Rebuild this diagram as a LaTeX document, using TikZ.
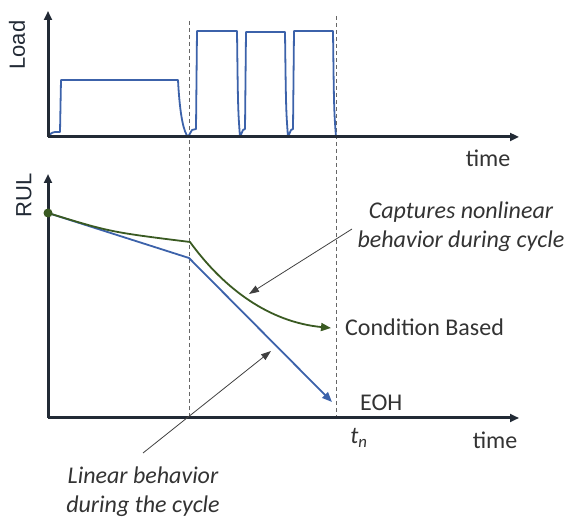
\documentclass[tikz,border=0pt]{standalone}
\usepackage{fontspec}
\setmainfont{Carlito}
\newfontfamily\axfont{Liberation Sans}
\usetikzlibrary{arrows.meta}
\definecolor{axisc}{HTML}{222A35}
\definecolor{loadc}{HTML}{3C62AA}
\definecolor{greenc}{HTML}{3A5A22}
\definecolor{txtc}{HTML}{333333}
\tikzset{
  axis/.style={draw=axisc,line width=3pt,-{Triangle[length=9pt,width=8pt]}},
  dashv/.style={draw=gray!80!black,line width=0.7pt,dash pattern=on 4pt off 3pt},
  curve/.style={line width=1.8pt,line join=round},
  note/.style={draw=black!75,line width=0.8pt,-{Triangle[length=10pt,width=7pt]}},
  lbl/.style={font=\fontsize{24}{29}\selectfont,text=txtc,inner sep=0pt},
  itl/.style={font=\fontsize{24}{29}\selectfont\itshape,text=txtc,inner sep=0pt,align=center},
  axlbl/.style={font=\axfont\fontsize{22}{24}\selectfont,text=axisc,inner sep=0pt,rotate=90}
}
\begin{document}
\begin{tikzpicture}[x=1pt,y=-1pt]
\useasboundingbox (0,0) rectangle (568,521);
% coordinates
\coordinate (o1) at (48,137);
\coordinate (y1) at (48,11);
\coordinate (x1) at (519,137);
\coordinate (o2) at (48,418);
\coordinate (y2) at (48,174);
\coordinate (x2) at (519,418);
\coordinate (d1t) at (189,21);
\coordinate (d1b) at (189,416);
\coordinate (d2t) at (336,16);
\coordinate (d2b) at (336,416);
% dashed guides
\draw[dashv] (d1t) -- (d1b);
\draw[dashv] (d2t) -- (d2b);
% load curve
\draw[curve,draw=loadc] (49,136) .. controls (51,133) .. (55,132) -- (60,132) -- (61,80) -- (178,80)
  .. controls (180,118) and (184,132) .. (188,137) -- (192,130) -- (196,129) -- (197,31) -- (237,31)
  .. controls (238,110) .. (240,137) -- (243,130) -- (245,129) -- (246,32) -- (285,32)
  .. controls (286,110) .. (288,137) -- (291,130) -- (293,129) -- (294,31) -- (333,31)
  .. controls (334,110) .. (336,137);
% axes
\draw[axis] (o1) -- (y1);
\draw[axis] (o1) -- (x1);
\draw[axis] (o2) -- (y2);
\draw[axis] (o2) -- (x2);
% RUL curves
\coordinate (s) at (48,213);
\coordinate (bk) at (189,258);
\coordinate (gk) at (190,242);
\node[coordinate] (eoh) at (332,402) {};
\node[coordinate] (cb) at (331,328) {};
\draw[curve,draw=loadc,-{Triangle[length=10pt,width=8pt]}] (s) -- (bk) -- (eoh);
\draw[curve,draw=greenc,-{Triangle[length=10pt,width=8pt]}] (s) .. controls (110,232) .. (gk)
  .. controls (225,290) and (270,322) .. (cb);
\fill[greenc] (s) circle (4.5pt);
% labels
\node[axlbl] (load) at (17,45) {Load};
\node[axlbl] (rul) at (24,195) {RUL};
\node[lbl] (time1) at (488,158) {time};
\node[lbl] (time2) at (495,440) {time};
\node[lbl,anchor=west] (cbl) at (345,327) {Condition Based};
\node[lbl,anchor=west] (eohl) at (360,403) {EOH};
\node[lbl] (tn) at (359,438) {\textit{t}\textsubscript{\textit{n}}};
\node[itl] (cap) at (461,227) {Captures nonlinear\\behavior during cycle};
\node[itl] (lin) at (143,492) {Linear behavior\\during the cycle};
% annotation arrows
\coordinate (capS) at (352,229);
\coordinate (capE) at (249,294);
\coordinate (linS) at (143,453);
\coordinate (linE) at (271,351);
\draw[note] (capS) -- (capE);
\draw[note] (linS) -- (linE);
\end{tikzpicture}
\end{document}
